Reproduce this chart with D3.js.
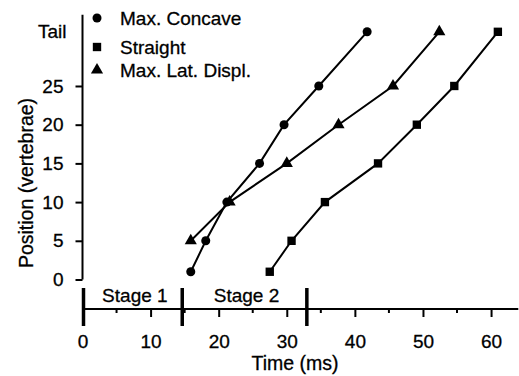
<!DOCTYPE html>
<html>
<head>
<meta charset="UTF-8">
<title>Position vs Time</title>
<script src="https://d3js.org/d3.v7.min.js"></script>
<style>
    body {margin: 0; background: white;}
    text {fill: black; stroke: black; stroke-width: 0.3; font-family: "Liberation Sans", Arial, Helvetica, sans-serif;}
    .axis path, .axis line {stroke: black; stroke-width: 2; fill: none;}
    .axis text {font-size: 19px;}
    .series {fill: none; stroke: black; stroke-width: 2;}
</style>
</head>
<body>
<div id="chart"></div>
<script>
    // time (ms) and position (vertebrae); 32 = tail
    var concaveTime = [15.9, 18.1, 21.2, 26.0, 29.6, 34.7, 41.8],
        concavePos  = [1, 5, 10, 15, 20, 25, 32];
    var straightTime = [27.5, 30.7, 35.6, 43.4, 49.1, 54.6, 61.0],
        straightPos  = [1, 5, 10, 15, 20, 25, 32];
    var latTime = [15.9, 21.6, 30.0, 37.6, 45.6, 52.4],
        latPos  = [5, 10, 15, 20, 25, 32];

    var xTicks = [0, 10, 20, 30, 40, 50, 60],
        xMinor = [5, 15, 25, 35, 45, 55],
        yTicks = [0, 5, 10, 15, 20, 25],
        tailPos = 32;

    var stageBreaks = [0, 14.5, 32.8],
        stageNames = ["Stage 1", "Stage 2"];

    var width = 519, height = 376;

    var x = d3.scaleLinear().domain([0, 64]).range([82.5, 518.3]);
    var y = d3.scaleLinear().domain([0, 32]).range([279.5, 31.8]);

    var svg = d3.select("#chart").append("svg")
        .attr("width", width)
        .attr("height", height);

    // y axis
    var yAxis = svg.append("g")
        .attr("class", "axis")
        .attr("transform", "translate(" + x(0) + ",0)")
        .call(d3.axisLeft(y).tickValues(yTicks).tickSize(7).tickPadding(12).tickSizeOuter(0));
    yAxis.select(".domain").remove();
    yAxis.append("line")
        .attr("x1", 0).attr("x2", 0)
        .attr("y1", y(0)).attr("y2", y(34.2));
    yAxis.append("text")
        .attr("x", -16).attr("y", y(tailPos))
        .attr("dy", "0.35em")
        .attr("text-anchor", "end")
        .text("Tail");

    // x axis, drawn lower with the stage bar above it
    var axisY = 309;
    var xAxis = svg.append("g")
        .attr("class", "axis")
        .attr("transform", "translate(0," + axisY + ")")
        .call(d3.axisBottom(x).tickValues(xTicks).tickSize(8).tickPadding(18).tickSizeOuter(0));
    xAxis.select(".domain").remove();
    xAxis.append("line")
        .attr("x1", x(0)).attr("x2", x(64))
        .attr("y1", 0).attr("y2", 0);
    xAxis.selectAll(".minor")
        .data(xMinor)
        .enter().append("line")
        .attr("class", "minor")
        .attr("x1", function(d) {return x(d)})
        .attr("x2", function(d) {return x(d)})
        .attr("y1", 0).attr("y2", 4);

    // stage separators
    svg.selectAll(".stage")
        .data(stageBreaks)
        .enter().append("line")
        .attr("class", "stage")
        .attr("x1", function(d) {return x(d) + 1})
        .attr("x2", function(d) {return x(d) + 1})
        .attr("y1", 288).attr("y2", 326)
        .attr("stroke", "black")
        .attr("stroke-width", 3.5);

    svg.selectAll(".stageLabel")
        .data(stageNames)
        .enter().append("text")
        .attr("class", "stageLabel")
        .attr("x", function(d, i) {return (x(stageBreaks[i]) + x(stageBreaks[i + 1])) / 2 + 3})
        .attr("y", 302)
        .attr("text-anchor", "middle")
        .style("font-size", "19px")
        .text(function(d) {return d});

    // axis titles
    svg.append("text")
        .attr("x", 295).attr("y", 370)
        .attr("text-anchor", "middle")
        .style("font-size", "19.5px")
        .text("Time (ms)");

    svg.append("text")
        .attr("transform", "translate(33,183) rotate(-90)")
        .attr("text-anchor", "middle")
        .style("font-size", "19.5px")
        .text("Position (vertebrae)");

    // series
    var line = d3.line()
        .x(function(d) {return x(d[0])})
        .y(function(d) {return y(d[1])});

    var concave = d3.zip(concaveTime, concavePos),
        straight = d3.zip(straightTime, straightPos),
        lateral = d3.zip(latTime, latPos);

    var symCircle = d3.symbol().type(d3.symbolCircle).size(64),
        symSquare = d3.symbol().type(d3.symbolSquare).size(70),
        symTri = d3.symbol().type(d3.symbolTriangle).size(64);

    [[concave, symCircle], [straight, symSquare], [lateral, symTri]].forEach(function(s) {
        svg.append("path")
            .datum(s[0])
            .attr("class", "series")
            .attr("d", line);
        svg.selectAll(null)
            .data(s[0])
            .enter().append("path")
            .attr("d", s[1])
            .attr("fill", "black")
            .attr("transform", function(d) {return "translate(" + x(d[0]) + "," + y(d[1]) + ")"});
    });

    // legend
    var legendNames = ["Max. Concave", "Straight", "Max. Lat. Displ."],
        legendSyms = [symCircle, symSquare, symTri],
        legendY = [18, 47, 70];

    var legend = svg.selectAll(".legend")
        .data(legendNames)
        .enter().append("g")
        .attr("class", "legend")
        .attr("transform", function(d, i) {return "translate(97," + legendY[i] + ")"});
    legend.append("path")
        .attr("d", function(d, i) {return legendSyms[i]()})
        .attr("fill", "black");
    legend.append("text")
        .attr("x", 23).attr("y", 0)
        .attr("dy", "0.35em")
        .style("font-size", "19px")
        .text(function(d) {return d});
</script>
</body>
</html>
